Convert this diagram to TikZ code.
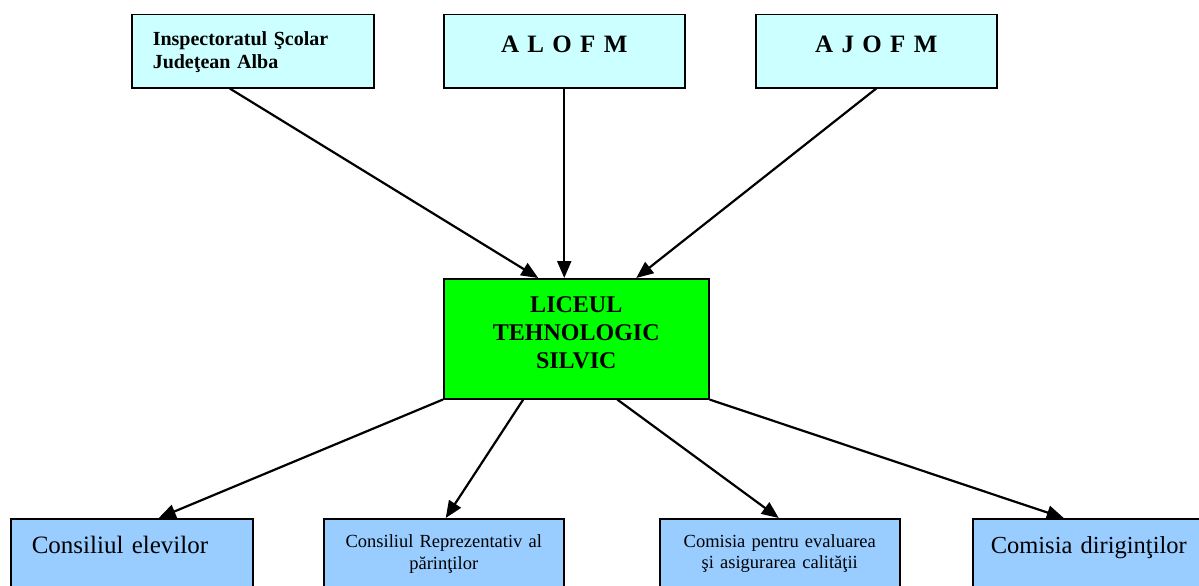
\documentclass[tikz,border=0pt]{standalone}
\usepackage{fontspec}
\setmainfont{Liberation Serif}
\usetikzlibrary{arrows.meta}
\definecolor{topcyan}{HTML}{CCFFFF}
\definecolor{licgreen}{HTML}{00FF00}
\definecolor{subblue}{HTML}{99CCFF}
\tikzset{
  box/.style={draw=black, line width=1.5pt, rectangle, inner sep=0pt, anchor=north west, align=center},
  topbox/.style={box, fill=topcyan, text width=241pt, text height=38pt, text depth=35pt},
  subbox/.style={box, fill=subblue, text width=240pt, text height=35pt, text depth=47pt},
  arr/.style={line width=2.2pt, -{Triangle[length=17pt,width=14pt]}}
}
\begin{document}
\begin{tikzpicture}[x=1pt,y=-1pt]
\useasboundingbox (0,0) rectangle (1199,586);
\clip (0,0) rectangle (1199,586);
\fill[white] (0,0) rectangle (1199,586);

\node[topbox, text width=200pt, inner xsep=21pt, align=left, text height=31pt, text depth=42pt,
  font=\fontsize{20}{23}\selectfont\bfseries] (isj) at (131,14) {Inspectoratul Şcolar\\Judeţean Alba};
\node[topbox, font=\fontsize{25}{30}\selectfont\bfseries] (alofm) at (443,14) {A L O F M};
\node[topbox, font=\fontsize{25}{30}\selectfont\bfseries] (ajofm) at (755,14) {A J O F M};

\node[box, fill=licgreen, text width=265pt, text height=34pt, text depth=86pt,
  font=\fontsize{24}{28}\selectfont\bfseries] (lic) at (443,278) {LICEUL\\TEHNOLOGIC\\SILVIC};

\node[subbox, text width=200pt, inner xsep=21pt, align=left, font=\fontsize{25}{29}\selectfont] (elevi) at (10,518) {Consiliul elevilor};
\node[subbox, text height=29pt, text depth=53pt, font=\fontsize{18.5}{22}\selectfont] (parinti) at (323,518) {Consiliul Reprezentativ al\\părinţilor};
\node[subbox, text height=29pt, text depth=53pt, font=\fontsize{18.5}{21}\selectfont] (calitate) at (659,518) {Comisia pentru evaluarea\\şi asigurarea calităţii};
\node[subbox, text width=232pt, font=\fontsize{24.5}{29}\selectfont] (dirig) at (972,518) {Comisia diriginţilor};

\draw[arr] ([xshift=-23pt]isj.south) -- ([xshift=-38pt]lic.north);
\draw[arr] (alofm.south) -- (alofm.south |- lic.north);
\draw[arr] (ajofm.south) -- ([xshift=60pt]lic.north);

\draw[arr] (lic.south west) -- ([xshift=27pt]elevi.north);
\draw[arr] ([xshift=-53pt]lic.south) -- ([xshift=2pt]parinti.north);
\draw[arr] ([xshift=41pt]lic.south) -- ([xshift=-1pt]calitate.north);
\draw[arr] (lic.south east) -- ([xshift=-25pt]dirig.north);
\end{tikzpicture}
\end{document}
